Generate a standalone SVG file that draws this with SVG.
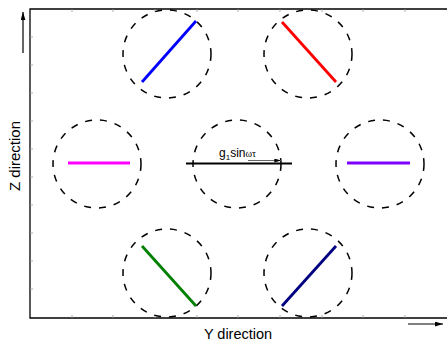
<svg xmlns="http://www.w3.org/2000/svg" width="447" height="343" viewBox="0 0 447 343">
<defs>
<style>
.frame{stroke:#000;stroke-width:1.3;fill:none}
.tick{stroke:#999;stroke-width:0.8}
.ring{fill:none;stroke:#000;stroke-width:1.5;stroke-dasharray:7,8}
.rod{stroke-width:2.8;stroke-linecap:butt}
.lbl{font-family:"Liberation Sans",Arial,sans-serif;fill:#000}
</style>
<marker id="ah" viewBox="0 0 10 6" refX="10" refY="3" markerWidth="8" markerHeight="5" markerUnits="userSpaceOnUse" orient="auto"><path d="M0,0L10,3L0,6z" fill="#000"/></marker>
<marker id="ahs" viewBox="0 0 10 6" refX="10" refY="3" markerWidth="9" markerHeight="4" markerUnits="userSpaceOnUse" orient="auto"><path d="M0,0L10,3L0,6z" fill="#000"/></marker>
</defs>
<rect width="447" height="343" fill="#fff"/>
<g id="axes">
<path class="frame" d="M447,9H30V318H447"/>
<g class="tick">
<path d="M72,318v-3M113,318v-3M155,318v-3M197,318v-3M238,318v-3M280,318v-3M322,318v-3M363,318v-3M405,318v-3"/>
<path d="M72,9v3M113,9v3M155,9v3M197,9v3M238,9v3M280,9v3M322,9v3M363,9v3M405,9v3"/>
<path d="M30,37h3M30,65h3M30,93h3M30,121h3M30,149h3M30,177h3M30,205h3M30,233h3M30,261h3M30,289h3"/>
</g>
<text class="lbl" x="238" y="339" font-size="14.5" text-anchor="middle">Y direction</text>
<text class="lbl" x="20" y="156" font-size="15" text-anchor="middle" transform="rotate(-90 20 156)">Z direction</text>
<line x1="23" y1="53" x2="23" y2="12" stroke="#000" stroke-width="1.2" marker-end="url(#ah)"/>
<line x1="408" y1="324" x2="443" y2="324" stroke="#000" stroke-width="1.2" marker-end="url(#ah)"/>
</g>
<g id="n-top-left"><circle class="ring" cx="167" cy="54" r="44"/><line class="rod" x1="142" y1="82" x2="196" y2="21" stroke="#0000ff"/></g>
<g id="n-top-right"><circle class="ring" cx="308" cy="54" r="44"/><line class="rod" x1="282" y1="22" x2="336" y2="82" stroke="#ff0000"/></g>
<g id="n-mid-left"><circle class="ring" cx="97" cy="164" r="44"/><line class="rod" x1="68" y1="163" x2="130" y2="163" stroke="#ff00ff"/></g>
<g id="n-mid-right"><circle class="ring" cx="380" cy="164" r="44"/><line class="rod" x1="347" y1="163" x2="410" y2="163" stroke="#7f00ff"/></g>
<g id="n-bot-left"><circle class="ring" cx="167" cy="273" r="44"/><line class="rod" x1="142" y1="246" x2="196" y2="306" stroke="#008000"/></g>
<g id="n-bot-right"><circle class="ring" cx="308" cy="273" r="44"/><line class="rod" x1="282" y1="306" x2="336" y2="246" stroke="#000080"/></g>
<g id="n-center">
<circle class="ring" cx="237" cy="164" r="44"/>
<line x1="186" y1="163.5" x2="292" y2="163.5" stroke="#000" stroke-width="2.2"/>
<text class="lbl" x="219" y="157" font-size="12">g<tspan font-size="8" dy="3">1</tspan><tspan dy="-3">sin</tspan><tspan font-size="10" font-family="'Liberation Serif',serif">ωτ</tspan></text>
<line x1="248" y1="160.5" x2="281" y2="160.5" stroke="#666" stroke-width="1.2" marker-end="url(#ahs)"/>
</g>
</svg>
